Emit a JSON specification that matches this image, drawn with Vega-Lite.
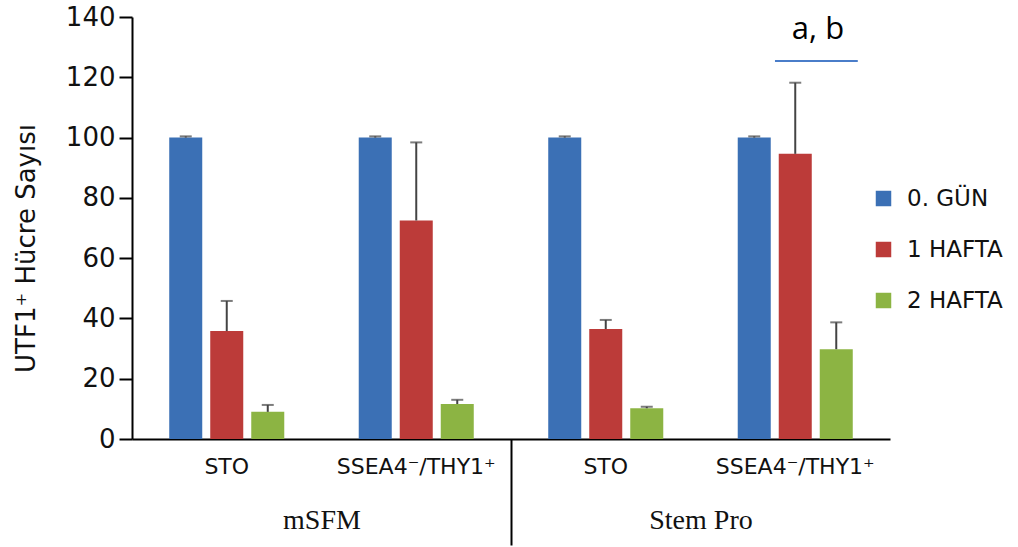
{
  "$schema": "https://vega.github.io/schema/vega-lite/v6.json",
  "width": 758,
  "height": 422,
  "autosize": "none",
  "padding": {"left": 132, "top": 17, "right": 128, "bottom": 108},
  "background": "white",
  "config": {"view": {"stroke": null}, "font": "DejaVu Sans"},
  "datasets": {
    "bars": [
      {"grp": "mSFM|STO", "series": "0. GÜN", "value": 100, "upper": 100.4},
      {"grp": "mSFM|STO", "series": "1 HAFTA", "value": 35.8, "upper": 45.8},
      {"grp": "mSFM|STO", "series": "2 HAFTA", "value": 9.0, "upper": 11.3},
      {"grp": "mSFM|SSEA4", "series": "0. GÜN", "value": 100, "upper": 100.4},
      {"grp": "mSFM|SSEA4", "series": "1 HAFTA", "value": 72.5, "upper": 98.4},
      {"grp": "mSFM|SSEA4", "series": "2 HAFTA", "value": 11.6, "upper": 13.0},
      {"grp": "Stem Pro|STO", "series": "0. GÜN", "value": 100, "upper": 100.4},
      {"grp": "Stem Pro|STO", "series": "1 HAFTA", "value": 36.5, "upper": 39.5},
      {"grp": "Stem Pro|STO", "series": "2 HAFTA", "value": 10.2, "upper": 10.7},
      {"grp": "Stem Pro|SSEA4", "series": "0. GÜN", "value": 100, "upper": 100.4},
      {"grp": "Stem Pro|SSEA4", "series": "1 HAFTA", "value": 94.6, "upper": 118.2},
      {"grp": "Stem Pro|SSEA4", "series": "2 HAFTA", "value": 29.8, "upper": 38.7}
    ],
    "annot": [
      {"grp": "Stem Pro|SSEA4", "label": "a, b", "lineY": 125.4, "textY": 135.7}
    ],
    "media": [
      {"media": "mSFM"},
      {"media": "Stem Pro"}
    ]
  },
  "layer": [
    {
      "layer": [
        {
          "data": {"name": "bars"},
          "mark": {"type": "bar"},
          "encoding": {
            "x": {
              "field": "grp", "type": "nominal", "sort": null,
              "scale": {"paddingInner": 0, "paddingOuter": 0},
              "axis": {
                "title": null,
                "labelExpr": "split(datum.value, '|')[1] === 'SSEA4' ? 'SSEA4⁻/THY1⁺' : 'STO'",
                "labelAngle": 0,
                "labelFontSize": 22,
                "labelColor": "#111",
                "labelPadding": 17,
                "ticks": false,
                "domainColor": "black",
                "domainWidth": 2
              }
            },
            "xOffset": {
              "field": "series", "type": "nominal",
              "sort": ["0. GÜN", "1 HAFTA", "2 HAFTA"],
              "scale": {"paddingInner": 0.195, "paddingOuter": 0.908}
            },
            "y": {
              "field": "value", "type": "quantitative",
              "scale": {"domain": [0, 140]},
              "axis": {
                "title": "UTF1⁺ Hücre Sayısı",
                "titleFontSize": 26,
                "titleFontWeight": "normal",
                "titleColor": "#111",
                "titlePadding": 26,
                "titleY": 231,
                "values": [0, 20, 40, 60, 80, 100, 120, 140],
                "labelFontSize": 26,
                "labelColor": "#111",
                "labelPadding": 4,
                "tickSize": 13,
                "tickWidth": 2,
                "tickColor": "black",
                "domainColor": "black",
                "domainWidth": 2,
                "grid": false
              }
            },
            "color": {
              "field": "series", "type": "nominal",
              "sort": ["0. GÜN", "1 HAFTA", "2 HAFTA"],
              "scale": {"domain": ["0. GÜN", "1 HAFTA", "2 HAFTA"], "range": ["#3B70B5", "#BC3B39", "#8CB443"]},
              "legend": {
                "title": null,
                "orient": "none",
                "legendX": 740,
                "legendY": 170,
                "symbolType": "square",
                "symbolSize": 240,
                "symbolStrokeWidth": 0,
                "labelFontSize": 23,
                "labelColor": "#111",
                "labelOffset": 12,
                "rowPadding": 27,
                "padding": 0
              }
            }
          }
        },
        {
          "data": {"name": "bars"},
          "mark": {"type": "rule", "color": "#444", "strokeWidth": 2},
          "encoding": {
            "x": {"field": "grp", "type": "nominal", "sort": null},
            "xOffset": {"field": "series", "type": "nominal", "sort": ["0. GÜN", "1 HAFTA", "2 HAFTA"]},
            "y": {"field": "value", "type": "quantitative"},
            "y2": {"field": "upper"}
          }
        },
        {
          "data": {"name": "bars"},
          "mark": {"type": "tick", "color": "#444", "thickness": 2, "size": 12},
          "encoding": {
            "x": {"field": "grp", "type": "nominal", "sort": null},
            "xOffset": {"field": "series", "type": "nominal", "sort": ["0. GÜN", "1 HAFTA", "2 HAFTA"]},
            "y": {"field": "upper", "type": "quantitative"}
          }
        },
        {
          "data": {"name": "annot"},
          "mark": {"type": "rule", "color": "#4A7DC9", "strokeWidth": 2},
          "encoding": {
            "x": {"field": "grp", "type": "nominal", "sort": null, "bandPosition": 0.393},
            "x2": {"field": "grp", "bandPosition": 0.83},
            "y": {"field": "lineY", "type": "quantitative"}
          }
        },
        {
          "data": {"name": "annot"},
          "mark": {"type": "text", "fontSize": 31, "font": "Open Sans", "color": "black", "baseline": "middle", "align": "center"},
          "encoding": {
            "x": {"field": "grp", "type": "nominal", "sort": null, "bandPosition": 0.62},
            "y": {"field": "textY", "type": "quantitative"},
            "text": {"field": "label"}
          }
        }
      ]
    },
    {
      "data": {"name": "media"},
      "mark": {"type": "text", "text": ""},
      "encoding": {
        "x": {
          "field": "media", "type": "nominal", "sort": null,
          "scale": {"paddingInner": 0, "paddingOuter": 0},
          "axis": {
            "orient": "bottom",
            "title": null,
            "domain": false,
            "labelAngle": 0,
            "labelFont": "Liberation Serif",
            "labelFontSize": 28,
            "labelColor": "#111",
            "labelBaseline": "top",
            "tickSize": 106,
            "tickWidth": 2,
            "tickOffset": -189.5,
            "labelOffset": 189.5,
            "tickColor": {"condition": {"test": "datum.value === 'Stem Pro'", "value": "black"}, "value": "transparent"},
            "labelPadding": -39
          }
        }
      }
    }
  ],
  "resolve": {"scale": {"x": "independent"}, "axis": {"x": "independent"}}
}
